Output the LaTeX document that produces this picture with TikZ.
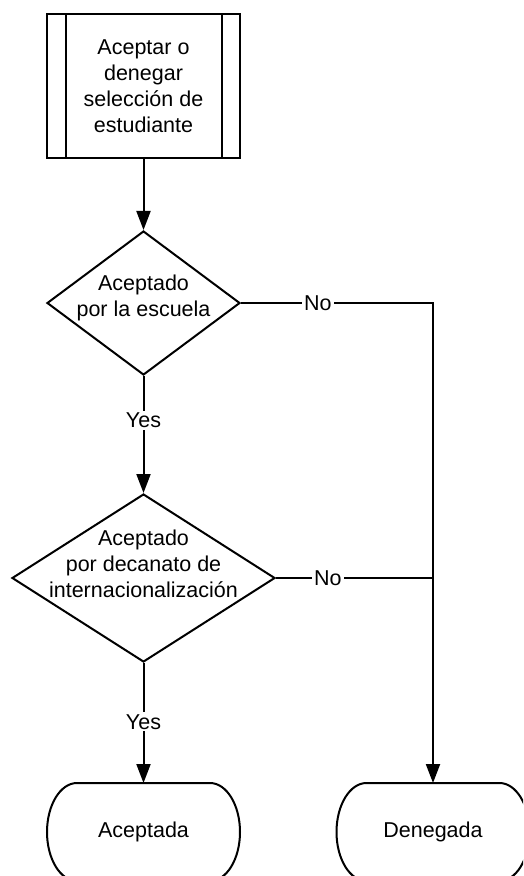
\documentclass[tikz,border=0pt]{standalone}
\usepackage{fontspec}
\setmainfont{Liberation Sans}
\usepackage{tikz}
\usetikzlibrary{shapes.geometric,arrows.meta}
\pgfkeys{tikz/proceso/.style={draw, line width=2pt, 
                                  minimum width=193pt, 
                                  minimum height=144pt, 
                                  align=center, inner sep=0pt}}
\pgfkeys{tikz/decision/.style={draw, diamond, 
                                   line width=2pt, 
                                   inner sep=0pt}}
\pgfkeys{tikz/terminal/.style={minimum width=193pt, 
                                   minimum height=98pt, 
                                   outer sep=0pt}}
\pgfkeys{tikz/flecha/.style={line width=2pt, -{Triangle[length=19pt,width=14pt]}}}
\pgfkeys{tikz/etiqueta/.style={fill=white, inner sep=2pt}}

\begin{document}
\begin{tikzpicture}[x=1pt, y=1pt, every node/.style={font=\fontsize{21.5pt}{26pt}\selectfont}]
                \clip (0,0) rectangle (523,-876);

                \node[proceso] (top) at (143.5,-86) {Aceptar o\\denegar\\selección de\\estudiante};
                \draw[line width=2pt] ([xshift=19.5pt]top.north west) -- ([xshift=19.5pt]top.south west);
                \draw[line width=2pt] ([xshift=-19.5pt]top.north east) -- ([xshift=-19.5pt]top.south east);

                \node[decision, minimum width=193pt, minimum height=144pt,
                      label={[align=center, yshift=5pt]center:Aceptado\\por la escuela}] (n1) at (143.5,-303) {};
                \node[decision, minimum width=263pt, minimum height=168pt,
                      label={[align=center, yshift=14pt]center:Aceptado\\por decanato de\\internacionalización}] (n2) at (143.5,-578) {};

                \node[terminal] (n3) at (143.5,-832) {Aceptada};
                \node[terminal] (n4) at (433,-832) {Denegada};
                \foreach \t in {n3,n4}
                    \draw[line width=2pt] ([xshift=30pt]\t.north west) -- ([xshift=-30pt]\t.north east)
                        arc[start angle=90, end angle=-90, x radius=30pt, y radius=49pt]
                        -- ([xshift=30pt]\t.south west)
                        arc[start angle=270, end angle=90, x radius=30pt, y radius=49pt];

                \draw[flecha] (top) -- (n1);
                \draw[flecha] (n1) -- node[etiqueta, pos=.38] {Yes} (n2);
                \draw[flecha] (n2) -- node[etiqueta, pos=.49] {Yes} (n3);
                \draw[flecha] (n1.east) -- node[etiqueta, pos=.4] {No} (n1.east -| n4.north) -- (n4.north);
                \draw[line width=2pt] (n2.east) -- node[etiqueta, pos=.33] {No} (n2.east -| n4.north);
            \end{tikzpicture}
\end{document}
